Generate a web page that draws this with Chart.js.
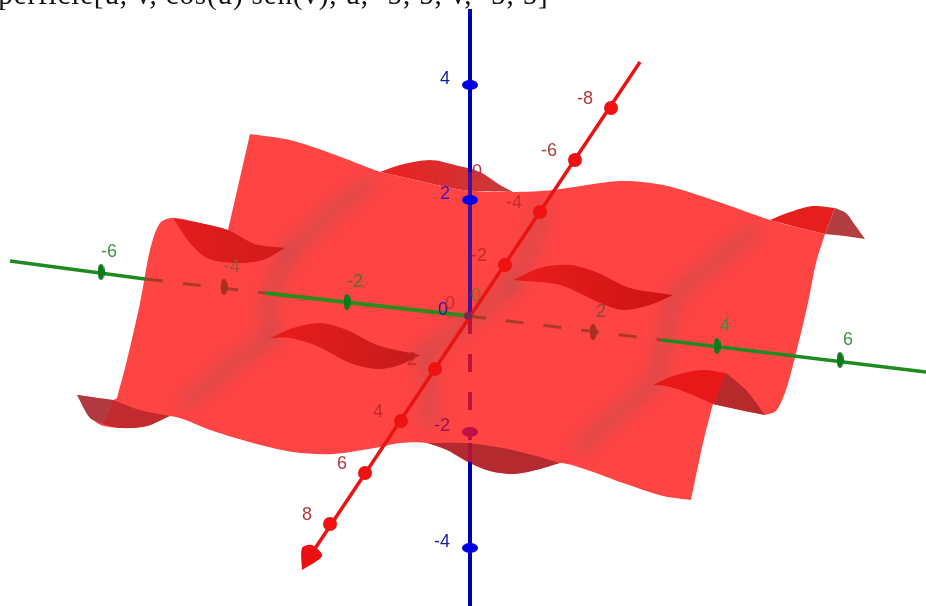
<!DOCTYPE html>
<html>
<head>
<meta charset="utf-8">
<title>Superficie</title>
<script src="https://cdn.jsdelivr.net/npm/chart.js@4/dist/chart.umd.min.js"></script>
<style>
  body { margin: 0; background: #fff; }
  canvas { display: block; }
</style>
</head>
<body>
<canvas id="chart" width="926" height="606"></canvas>
<script>
const titleText = 'Superficie[u, v, cos(u) sen(v), u, -5, 5, v, -5, 5]';

// outline of the sheet, a repeated point is a sharp corner
const sheetOutline = [
  [250,134],[250,134],[290,140],[330,153],[380,172],[380,172],[420,181],[463,190],[513,192],[553,190],
  [620,181],[663,185],[713,200],[770,220],[796,227],[825,234],[825,234],[816,263],[808,303],[796,353],
  [786,390],[776,411],[765,415],[765,415],[740,410],[713,404],[713,404],[703,443],[691,500],[691,500],
  [663,496],[623,483],[590,471],[560,463],[536,470],[513,474],[490,471],[470,463],[447,450],[427,443],
  [400,443],[380,447],[333,454],[293,452],[253,443],[213,431],[170,416],[147,426],[120,428],[97,423],
  [77,395],[77,395],[113,400],[117,398],[117,398],[127,360],[140,303],[150,250],[160,223],[173,218],
  [200,223],[228,230],[228,230],[250,134]
];

// the folds where the underside shows
const foldTopMiddle = [[380,172],[380,172],[400,165],[430,160],[455,165],[480,172],[500,185],[513,192],[513,192],[463,190],[420,181],[380,172]];
const foldTopRight = [[770,220],[770,220],[790,212],[813,206],[835,208],[835,208],[825,234],[825,234],[796,227],[770,220]];
const foldTopRightEnd = [[835,208],[835,208],[846,213],[855,225],[865,239],[865,239],[845,236],[825,234],[825,234],[835,208]];
const foldUpperLeft = [[173,218],[173,218],[200,223],[228,230],[255,244],[285,248],[285,248],[263,260],[233,263],[207,258],[190,243],[173,218]];
const foldCentreRight = [[513,280],[513,280],[540,268],[570,265],[596,272],[630,288],[673,295],[673,295],[650,305],[623,310],[600,303],[560,285],[513,280]];
const foldCentreLeft = [[270,338],[270,338],[293,328],[320,323],[347,330],[377,345],[420,355],[420,355],[400,365],[377,369],[350,363],[317,346],[290,338],[270,338]];
const foldLowerRight = [[653,385],[653,385],[676,375],[703,370],[726,373],[726,373],[713,404],[713,404],[683,391],[666,386],[653,385]];
const foldLowerRightEnd = [[726,373],[726,373],[746,390],[765,415],[765,415],[740,410],[713,404],[713,404],[726,373]];
const foldBottomMiddle = [[427,443],[427,443],[463,443],[503,448],[536,456],[560,463],[560,463],[536,470],[513,474],[490,471],[470,463],[447,450],[427,443]];
const foldLowerLeft = [[113,400],[113,400],[140,410],[170,416],[170,416],[147,426],[120,428],[103,424],[103,424],[113,400]];
const foldLowerLeftEnd = [[77,395],[77,395],[113,400],[113,400],[103,424],[103,424],[90,418],[77,395]];

// soft shaded creases on the sheet
const creases = [
  [[368,186],[340,205],[305,238],[288,252]],
  [[288,254],[276,280],[268,310],[272,334]],
  [[268,340],[235,362],[205,388],[188,400]],
  [[510,282],[528,255],[536,232],[542,210]],
  [[752,234],[730,250],[700,275],[680,292]],
  [[515,284],[480,312],[450,335],[424,353]],
  [[424,358],[430,385],[430,405],[430,422]],
  [[672,300],[668,330],[660,360],[656,382]],
  [[648,388],[620,412],[600,430],[582,446]]
];

// axes
const greenAxisStart = [[10,261],[145,279]];
const greenAxisHiddenLeft = [[145,279],[265,293]];
const greenAxisMiddle = [[265,293],[468,316]];
const greenAxisHiddenRight = [[468,316],[662,340]];
const greenAxisEnd = [[662,340],[926,372]];
const redAxis = [[640,62],[310,556]];
const redArrowHead = [[302,570],[302,548],[312,545],[322,556],[302,570]];
const blueAxisTop = [[470,9],[470,172]];
const blueAxisBehind = [[470,172],[470,316]];
const blueAxisHidden = [[470,316],[470,440]];
const blueAxisFold = [[470,443],[470,462]];
const blueAxisBottom = [[470,462],[470,606]];

// tick marks and their labels
const greenTickLabels = ['-6', '-4', '-2', '2', '4', '6'];
const greenTicks = [[101,272],[224,287],[347,302],[593,332],[717,346],[840,360]];
const redTickLabels = ['-8', '-6', '-4', '-2', '2', '4', '6', '8'];
const redTicks = [[611,108],[575,160],[540,212],[505,265],[435,369],[401,421],[365,473],[330,524]];
const blueTickLabels = ['4', '2', '-2', '-4'];
const blueTicks = [[470,85],[470,200],[470,432],[470,548]];
const originMark = [[468,316]];

const RED = '#ff4444';
const greenLabelColors = ['#3f8f3f', '#a0503a', '#5f6a2a', '#8a4a30', '#3f8a3f', '#3f8f3f'];
const redLabelColors = ['#b03a3a', '#b03a3a', '#c42a2a', '#c42a2a', '#c42a2a', '#c42a2a', '#b03a3a', '#b03a3a'];
const blueLabelColors = ['#1a1aa8', '#4a14b0', '#a01050', '#1a1aa8'];

const pts = list => list.map(p => ({ x: p[0], y: p[1] }));

const helperCtx = document.createElement('canvas').getContext('2d');
function hGrad(x0, x1, c0, c1) {
  const g = helperCtx.createLinearGradient(x0, 0, x1, 0);
  g.addColorStop(0, c0);
  g.addColorStop(1, c1);
  return g;
}

// small ellipse used as a tick mark
function tickImage(w, h, colors) {
  const c = document.createElement('canvas');
  c.width = w;
  c.height = h;
  const g = c.getContext('2d');
  g.fillStyle = colors;
  g.beginPath();
  g.ellipse(w / 2, h / 2, w / 2, h / 2, 0, 0, Math.PI * 2);
  g.fill();
  return c;
}

function shape(list, color) {
  return { data: pts(list), showLine: true, fill: 'shape', backgroundColor: color, borderWidth: 0, borderColor: 'transparent', pointRadius: 0, tension: 0.3 };
}
function line(list, color, width, dash) {
  return { data: pts(list), showLine: true, fill: false, borderColor: color, borderWidth: width, borderDash: dash || [], pointRadius: 0, tension: 0 };
}
function crease(list) {
  return { data: pts(list), showLine: true, fill: false, borderColor: 'rgba(120,90,90,0.26)', borderWidth: 16, borderCapStyle: 'round', pointRadius: 0, tension: 0.3, blur: 8 };
}
function marks(list, style, radius, color) {
  return { data: pts(list), showLine: false, pointStyle: style, pointRadius: radius, pointBackgroundColor: color, pointBorderWidth: 0 };
}

const greenTick = tickImage(7, 16, '#0b7a1c');
const hiddenTick = tickImage(7, 16, '#a8301f');
const blueTick = tickImage(16, 10, '#0000e6');
const hiddenBlueTick = tickImage(16, 10, '#c0104a');

// painter's order, first one is at the back
const layers = [
  shape(sheetOutline, RED),
  ...creases.map(crease),
  shape(foldTopMiddle, hGrad(380, 513, '#ec2020', '#c83a3a')),
  shape(foldTopRight, '#e61e1e'),
  shape(foldTopRightEnd, '#b33e42'),
  shape(foldUpperLeft, hGrad(173, 285, '#e41c1c', '#d01c1c')),
  shape(foldCentreRight, hGrad(513, 673, '#ea1c1c', '#cc1414')),
  shape(foldCentreLeft, hGrad(270, 420, '#ea1c1c', '#c41c1c')),
  shape(foldLowerRight, '#e81818'),
  shape(foldLowerRightEnd, '#b62a2c'),
  shape(foldBottomMiddle, '#b42a2e'),
  shape(foldLowerLeft, '#c22a2e'),
  shape(foldLowerLeftEnd, '#b03a40'),
  line(greenAxisStart, '#1f8a1f', 3.5),
  line(greenAxisHiddenLeft, '#a83a28', 3, [18, 20]),
  line(greenAxisMiddle, '#2f8a1c', 4),
  line(greenAxisHiddenRight, '#a83a28', 3, [18, 20]),
  line(greenAxisEnd, '#1f8a1f', 3.5),
  marks(greenTicks.filter((t, i) => i !== 1 && i !== 3), greenTick, 6),
  marks([greenTicks[1], greenTicks[3]], hiddenTick, 6),
  line(blueAxisTop, '#0000b4', 4),
  line(blueAxisBehind, '#4a1094', 4),
  line(blueAxisHidden, '#c0103c', 4, [18, 20]),
  line(blueAxisFold, '#b01040', 4),
  line(blueAxisBottom, '#0000b4', 4),
  marks([blueTicks[0], blueTicks[1], blueTicks[3]], blueTick, 6),
  marks([blueTicks[2]], hiddenBlueTick, 6),
  line(redAxis, '#e81414', 3.5),
  shape(redArrowHead, '#ee1010'),
  marks(redTicks, 'circle', 7, '#ee1212'),
  marks(originMark, 'circle', 4, '#7a2a50')
];
layers.forEach((d, i) => { d.order = layers.length - i; });

// blur for the creases: Chart.js has no option for it
const creaseBlur = {
  id: 'creaseBlur',
  beforeDatasetDraw(chart, args) {
    const b = chart.data.datasets[args.index].blur;
    if (b) chart.ctx.filter = 'blur(' + b + 'px)';
  },
  afterDatasetDraw(chart) {
    chart.ctx.filter = 'none';
  }
};

// axis numbers and the command line on top of the picture
const axisText = {
  id: 'axisText',
  afterDatasetsDraw(chart) {
    const { ctx, scales } = chart;
    const put = (ticks, labels, colors, dx, dy, align) => {
      ticks.forEach((t, i) => {
        ctx.fillStyle = colors[i];
        ctx.textAlign = align;
        ctx.fillText(labels[i], scales.x.getPixelForValue(t[0]) + dx, scales.y.getPixelForValue(t[1]) + dy);
      });
    };
    ctx.save();
    ctx.textBaseline = 'middle';
    ctx.font = '18px "Liberation Sans", Arial, sans-serif';
    put(greenTicks, greenTickLabels, greenLabelColors, 8, -20, 'center');
    put(redTicks, redTickLabels, redLabelColors, -18, -9, 'right');
    put(blueTicks, blueTickLabels, blueLabelColors, -20, -6, 'right');
    ctx.fillStyle = '#1a1aa8';
    ctx.textAlign = 'center';
    ctx.fillText('0', 443, 310);
    ctx.fillStyle = '#c03030';
    ctx.fillText('0', 450, 304);
    ctx.fillStyle = '#8a6a20';
    ctx.fillText('0', 476, 296);
    ctx.fillStyle = '#b03050';
    ctx.fillText('0', 477, 172);
    ctx.font = '29px "Liberation Serif", "Times New Roman", serif';
    ctx.letterSpacing = '0.87px';
    ctx.fillStyle = '#111';
    ctx.textAlign = 'left';
    ctx.textBaseline = 'alphabetic';
    ctx.fillText(titleText, -34, 4);
    ctx.restore();
  }
};

new Chart(document.getElementById('chart'), {
  type: 'scatter',
  data: { datasets: layers },
  options: {
    responsive: false,
    animation: false,
    clip: false,
    layout: { padding: 0, autoPadding: false },
    plugins: { legend: { display: false }, tooltip: { enabled: false } },
    scales: {
      x: { type: 'linear', min: 0, max: 926, display: false },
      y: { type: 'linear', min: 0, max: 606, reverse: true, display: false }
    }
  },
  plugins: [creaseBlur, axisText]
});
</script>
</body>
</html>
